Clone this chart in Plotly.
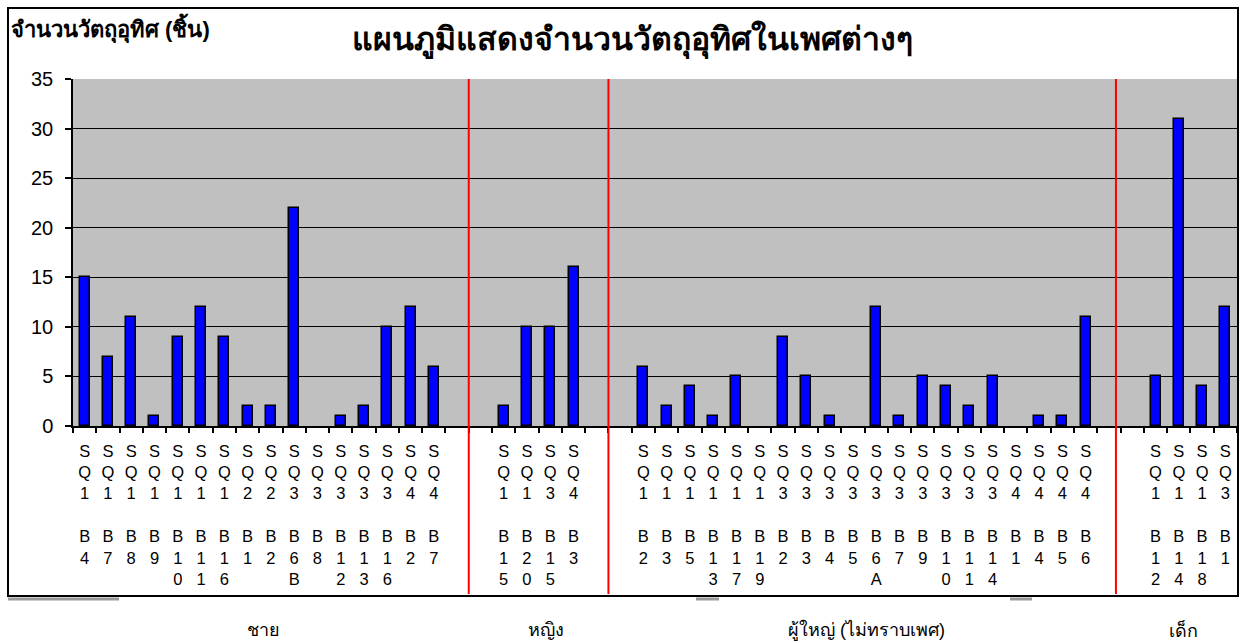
import plotly.graph_objects as go

# ---- data ----
title_text = "แผนภูมิแสดงจำนวนวัตถุอุทิศในเพศต่างๆ"
y_title = "จำนวนวัตถุอุทิศ (ชิ้น)"
group_names = ["ชาย", "หญิง", "ผู้ใหญ่ (ไม่ทราบเพศ)", "เด็ก"]

male_labels = ["SQ1 B4", "SQ1 B7", "SQ1 B8", "SQ1 B9", "SQ1 B10", "SQ1 B11", "SQ1 B16", "SQ2 B1",
               "SQ2 B2", "SQ3 B6B", "SQ3 B8", "SQ3 B12", "SQ3 B13", "SQ3 B16", "SQ4 B2", "SQ4 B7"]
male_values = [15, 7, 11, 1, 9, 12, 9, 2, 2, 22, 0, 1, 2, 10, 12, 6]

female_labels = ["SQ1 B15", "SQ1 B20", "SQ3 B15", "SQ4 B3"]
female_values = [2, 10, 10, 16]

adult_labels = ["SQ1 B2", "SQ1 B3", "SQ1 B5", "SQ1 B13", "SQ1 B17", "SQ1 B19", "SQ3 B2", "SQ3 B3",
                "SQ3 B4", "SQ3 B5", "SQ3 B6A", "SQ3 B7", "SQ3 B9", "SQ3 B10", "SQ3 B11", "SQ3 B14",
                "SQ4 B1", "SQ4 B4", "SQ4 B5", "SQ4 B6"]
adult_values = [6, 2, 4, 1, 5, 0, 9, 5, 1, 0, 12, 1, 5, 4, 2, 5, 0, 1, 1, 11]

child_labels = ["SQ1 B12", "SQ1 B14", "SQ1 B18", "SQ3 B1"]
child_values = [5, 31, 4, 12]

groups = [(male_labels, male_values), (female_labels, female_values),
          (adult_labels, adult_values), (child_labels, child_values)]
GAP = 2  # empty category slots between groups

# ---- build category positions ----
xs, ys, texts = [], [], []
group_centers, separators = [], []
pos = 0
for gi, (labs, vals) in enumerate(groups):
    if gi > 0:
        separators.append(pos + GAP / 2 - 0.5)
        for _ in range(GAP):
            xs.append(pos); ys.append(None); texts.append("")
            pos += 1
    start = pos
    for lab, v in zip(labs, vals):
        xs.append(pos); ys.append(v)
        a, b = lab.split(" ")
        texts.append("<br>".join(list(a)) + "<br>\u00a0<br>" + "<br>".join(list(b)))
        pos += 1
    group_centers.append((start + pos - 1) / 2)
n = pos
# last separator in the original sits a bit left of the boundary
separators[-1] -= 0.2

bar_x = [x for x, y in zip(xs, ys) if y is not None]
bar_y = [y for y in ys if y is not None]
bar_lw = [1.5 if y > 0 else 0 for y in bar_y]

fig = go.Figure(go.Bar(
    x=bar_x, y=bar_y, width=0.43,
    marker=dict(color="#0000FF", line=dict(color="black", width=bar_lw)),
    hoverinfo="x+y",
))

# plot area geometry (pixels) to paper conversion
L, R, T, B, W, H = 73, 3, 79, 217, 1240, 643
pw, ph = W - L - R, H - T - B
def px(xp): return (xp - L) / pw
def py(yp): return (H - B - yp) / ph

shapes = []
for s in separators:
    shapes.append(dict(type="line", xref="x", yref="paper", x0=s, x1=s, y0=py(594), y1=1,
                       line=dict(color="#FF0000", width=2)))
# outer border
shapes.append(dict(type="rect", xref="paper", yref="paper", x0=px(8), x1=px(1238), y0=py(596), y1=py(8),
                   line=dict(color="black", width=2), fillcolor="rgba(0,0,0,0)", layer="above"))
# faint shadow marks under the border
for a, b in [(8, 119), (696, 719), (1010, 1032)]:
    shapes.append(dict(type="line", xref="paper", yref="paper", x0=px(a), x1=px(b), y0=py(599), y1=py(599),
                       line=dict(color="#9a9a9a", width=3)))

annotations = [
    dict(text=f"<b>{title_text}</b>", xref="paper", yref="paper", x=px(632), y=py(40),
         xanchor="center", yanchor="middle", showarrow=False,
         font=dict(size=32, color="black", family="Liberation Sans, Arial, sans-serif")),
    dict(text=f"<b>{y_title}</b>", xref="paper", yref="paper", x=px(9), y=py(28),
         xanchor="left", yanchor="middle", showarrow=False,
         font=dict(size=22, color="black", family="Liberation Sans, Arial, sans-serif")),
]
label_shift = [0.2, 0.3, 0.1, -0.3]
for gname, c, sh in zip(group_names, group_centers, label_shift):
    annotations.append(dict(text=gname, xref="x", yref="paper", x=c + sh, y=py(630),
                            xanchor="center", yanchor="middle", showarrow=False,
                            font=dict(size=18, color="black", family="Liberation Sans, Arial, sans-serif")))

fig.update_layout(
    width=W, height=H,
    margin=dict(l=L, r=R, t=T, b=B, pad=0),
    paper_bgcolor="white", plot_bgcolor="#C0C0C0",
    showlegend=False, bargap=0,
    font=dict(family="Liberation Sans, Arial, sans-serif", color="black"),
    shapes=shapes, annotations=annotations,
)
fig.update_xaxes(
    range=[-0.5, n - 0.5], tickmode="array", tickvals=xs, ticktext=texts,
    ticks="outside", ticklen=5, tickcolor="rgba(0,0,0,0)", tickangle=0,
    tickfont=dict(size=16.5, family="Liberation Sans, Arial, sans-serif", color="black"),
    ticklabelstandoff=4,
    showline=True, linecolor="black", linewidth=1.5, showgrid=False, zeroline=False,
    minor=dict(tickmode="array", tickvals=[i - 0.5 for i in range(n + 1)], ticks="outside",
               ticklen=5, tickcolor="black", tickwidth=1.5, showgrid=False),
)
fig.update_yaxes(
    range=[0, 35], dtick=5, tick0=0, ticks="outside", ticklen=6, tickcolor="black", tickwidth=1.5,
    tickfont=dict(size=20, family="Liberation Sans, Arial, sans-serif", color="black"),
    ticklabelstandoff=8,
    showline=True, linecolor="black", linewidth=1.5,
    showgrid=True, gridcolor="black", gridwidth=1, zeroline=False,
)

fig.write_html("out.html", config={"displayModeBar": False},
               post_script="document.body.style.margin='0';document.body.style.overflow='hidden';")
